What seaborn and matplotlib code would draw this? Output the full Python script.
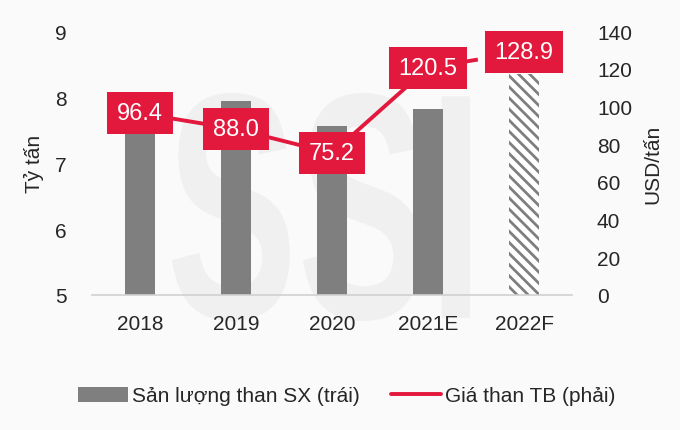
import matplotlib
matplotlib.use("Agg")
import matplotlib.pyplot as plt
import seaborn as sns
import pandas as pd
from matplotlib.patches import Patch, PathPatch
from matplotlib.lines import Line2D
from matplotlib.textpath import TextPath
from matplotlib.font_manager import FontProperties
from matplotlib.transforms import Affine2D

years = ["2018", "2019", "2020", "2021E", "2022F"]
production = [7.8, 7.94, 7.56, 7.82, 8.35]   # Tỷ tấn (left)
price = [96.4, 88.0, 75.2, 120.5, 128.9]      # USD/tấn (right)

sns.set_theme(style="white")
plt.rcParams['font.family'] = ['Liberation Sans', 'DejaVu Sans']
plt.rcParams['hatch.linewidth'] = 2.0
plt.rcParams['hatch.color'] = "#808080"

GREY = "#7f7f7f"
RED = "#e2183c"
BG = "#fafafa"

fig = plt.figure(figsize=(6.8, 4.31), dpi=100, facecolor=BG)

# watermark "SSI" (condensed, very light, behind everything)
tp = TextPath((0, 0), "SSI", size=100, prop=FontProperties(family="Liberation Sans", weight="bold"))
ext = tp.get_extents()
tr = (Affine2D().translate(-ext.x0, -ext.y0)
      .scale(298 / ext.width, 228 / ext.height)
      .translate(172, 431 - 322))
wm = PathPatch(tp, transform=tr, facecolor="#f0f0f0", edgecolor="none", zorder=-1)
fig.add_artist(wm)

ax = fig.add_axes([92/680, 1-296/431, 480/680, 264/431])
ax.set_facecolor("none")

df = pd.DataFrame({"year": years, "prod": production})
sns.barplot(data=df, x="year", y="prod", color=GREY, width=0.31, ax=ax,
            saturation=1, edgecolor="none")
last = ax.patches[-1]
last.set_facecolor("white")
last.set_edgecolor(GREY)
last.set_hatch("\\\\\\")
last.set_linewidth(0)

ax.set_ylim(5, 9)
ax.set_xlim(-0.5, 4.5)
ax.set_yticks([5, 6, 7, 8, 9])
ax.set_xlabel("")
ax.set_ylabel("Tỷ tấn", fontsize=15, labelpad=8)
ax.tick_params(axis="both", labelsize=15, length=0)
ax.tick_params(axis="x", pad=14)
ax.tick_params(axis="y", pad=18)
for s in ["top", "right", "left"]:
    ax.spines[s].set_visible(False)
ax.spines["bottom"].set_color("#d0d0d0")
ax.spines["bottom"].set_linewidth(1.2)

ax2 = ax.twinx()
ax2.set_ylim(0, 140)
ax2.set_yticks(range(0, 141, 20))
pdf = pd.DataFrame({"x": list(range(len(years))), "price": price})
sns.lineplot(data=pdf.iloc[:4], x="x", y="price", color=RED, linewidth=2.8, ax=ax2)
sns.lineplot(data=pdf.iloc[3:], x="x", y="price", color=RED, linewidth=2.8, ax=ax2)
ax2.lines[-1].set_dashes([5, 3])
for xi, v in zip(pdf["x"], pdf["price"]):
    ax2.text(xi, v, f"{v:.1f}", ha="center", va="center", color="white", fontsize=17,
             bbox=dict(boxstyle="square,pad=0.42", facecolor=RED, edgecolor="none"), zorder=5)
ax2.set_xlim(-0.5, 4.5)
ax2.set_ylabel("USD/tấn", fontsize=15, labelpad=8)
ax2.set_xlabel("")
ax2.tick_params(axis="y", labelsize=15, length=0, pad=18)
for s in ["top", "right", "left", "bottom"]:
    ax2.spines[s].set_visible(False)

handles = [Patch(facecolor=GREY, edgecolor="none"),
           Line2D([0], [0], color=RED, linewidth=2.8)]
fig.legend(handles, ["Sản lượng than SX (trái)", "Giá than TB (phải)"],
           loc="center", bbox_to_anchor=(0.51, 1-397/431), ncol=2, frameon=False,
           fontsize=15, handlelength=2.4, handletextpad=0.2, columnspacing=1.5)

fig.savefig("out.png", dpi=100, facecolor=BG)
